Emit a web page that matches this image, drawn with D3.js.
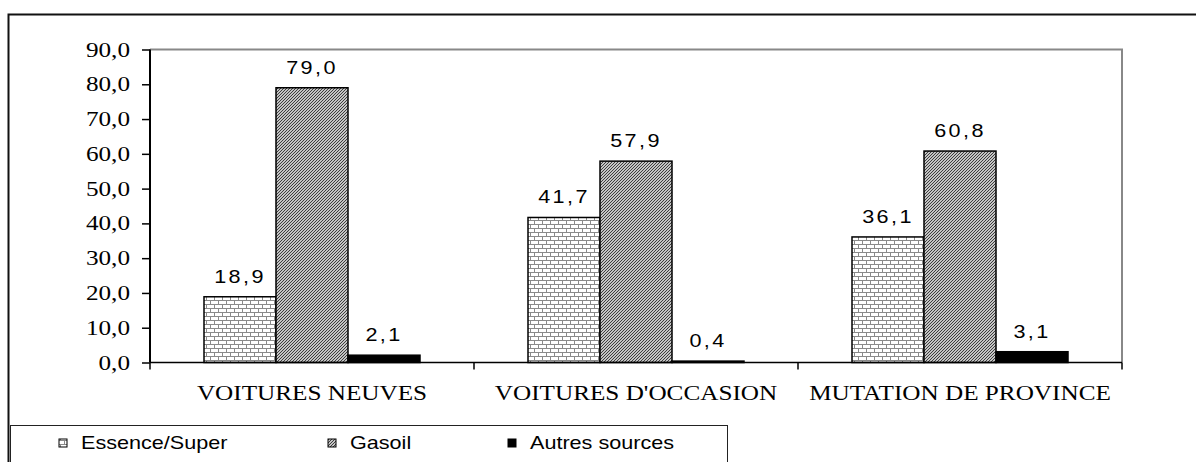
<!DOCTYPE html>
<html><head><meta charset="utf-8">
<script src="https://cdn.jsdelivr.net/npm/d3@7"></script>
<style>body{margin:0;background:#fff}svg{display:block}</style>
</head><body><svg id="c" width="1196" height="462"></svg>
<script>
const categories = ["VOITURES NEUVES", "VOITURES D'OCCASION", "MUTATION DE PROVINCE"];
const seriesNames = ["Essence/Super", "Gasoil", "Autres sources"];
const essence = [18.9, 41.7, 36.1];
const gasoil = [79.0, 57.9, 60.8];
const autres = [2.1, 0.4, 3.1];
const yTicks = [0, 10, 20, 30, 40, 50, 60, 70, 80, 90];

const SX = 1.2; // horizontal stretch of text in the reference
const svg = d3.select("#c");
const defs = svg.append("defs");
const pb = defs.append("pattern").attr("id","brick").attr("patternUnits","userSpaceOnUse")
  .attr("width",8).attr("height",8);
pb.append("rect").attr("width",8).attr("height",8).attr("fill","#fff");
pb.append("path").attr("d","M0,0.5H8M0,4.5H8M0.5,0V4M4.5,4V8").attr("stroke","#8a8a8a").attr("stroke-width",1);
const pd = defs.append("pattern").attr("id","diag").attr("patternUnits","userSpaceOnUse")
  .attr("width",3).attr("height",3);
pd.append("rect").attr("width",3).attr("height",3).attr("fill","#fff");
pd.append("path").attr("d","M-1,4L4,-1M-1,1L1,-1M2,4L4,2").attr("stroke","#333").attr("stroke-width",1.1);
const fills = ["url(#brick)", "url(#diag)", "#000"];

const L = 150, R = 1122, T = 49.5, B = 362.5;
const y = d3.scaleLinear().domain([0, 90]).range([B, T]);
const x0 = d3.scaleBand().domain(categories).range([L, R]);
const x1 = d3.scaleBand().domain(seriesNames).range([54, 54 + 216]);
const fmt = v => d3.format(".1f")(v).replace(".", ",");

function stext(sel, x, yy, anchor, family, size, spacing) {
  return sel.append("text")
    .attr("transform", `translate(${x},${yy}) scale(${SX},1)`)
    .attr("text-anchor", anchor)
    .style("font-family", family).style("font-size", size + "px")
    .style("letter-spacing", (spacing || 0) + "px")
    .attr("fill", "#000");
}

// outer border
svg.append("path").attr("d","M8.5,462V14.5H1196").attr("fill","none").attr("stroke","#111").attr("stroke-width",2);
// plot area border (top/right)
svg.append("path").attr("d",`M${L},${T}H${R}V${B}`).attr("fill","none").attr("stroke","#888").attr("stroke-width",2);

const data = categories.map((c,i)=>({cat:c, vals:[essence[i], gasoil[i], autres[i]]}));
const g = svg.selectAll("g.cat").data(data).join("g").attr("class","cat").attr("transform",d=>`translate(${x0(d.cat)},0)`);
g.selectAll("rect").data(d=>d.vals.map((v,j)=>({v, s:seriesNames[j], j})))
  .join("rect")
  .attr("x",d=>x1(d.s)).attr("width",x1.bandwidth())
  .attr("y",d=>y(d.v)).attr("height",d=>B - y(d.v))
  .attr("fill",d=>fills[d.j]).attr("stroke","#000").attr("stroke-width",1.5);
g.each(function(d){
  const gg = d3.select(this);
  d.vals.forEach((v,j)=>{
    stext(gg, x1(seriesNames[j]) + x1.bandwidth()/2, y(v) - 14, "middle", "Liberation Sans, Arial", 18, 2).text(fmt(v));
  });
});

// y axis
const ya = svg.append("g").attr("transform",`translate(${L},0)`)
  .call(d3.axisLeft(y).tickValues(yTicks).tickSize(8).tickFormat(""));
ya.select(".domain").attr("stroke","#000").attr("stroke-width",2).attr("d",`M0,${T}V${B}`);
ya.selectAll(".tick line").attr("stroke","#000").attr("stroke-width",1.5);
yTicks.forEach(t => {
  stext(svg, 130, y(t) + 7, "end", "Liberation Serif, Times New Roman", 21).text(fmt(t));
});

// x axis
const xa = svg.append("g").attr("transform",`translate(0,${B})`)
  .call(d3.axisBottom(x0).tickSize(0).tickFormat(""));
xa.select(".domain").attr("stroke","#000").attr("stroke-width",1.5).attr("d",`M${L},0H${R}`);
xa.selectAll("line.sep").data(d3.range(categories.length+1)).join("line").attr("class","sep")
  .attr("x1",i=>L + i*x0.step()).attr("x2",i=>L + i*x0.step()).attr("y1",0).attr("y2",7)
  .attr("stroke","#000").attr("stroke-width",1.5);
categories.forEach(c => {
  stext(svg, x0(c) + x0.bandwidth()/2, 400, "middle", "Liberation Serif, Times New Roman", 21).text(c);
});

// legend
svg.append("rect").attr("x",10.5).attr("y",425.5).attr("width",717).attr("height",40).attr("fill","#fff").attr("stroke","#222").attr("stroke-width",1);
const legX = [59, 328, 508];
seriesNames.forEach((s,i) => {
  svg.append("rect").attr("x",legX[i]).attr("y",439).attr("width",8).attr("height",8)
    .attr("fill",fills[i]).attr("stroke","#000").attr("stroke-width",1);
  stext(svg, legX[i] + 22, 449, "start", "Liberation Sans, Arial", 18).text(s);
});
</script></body></html>
